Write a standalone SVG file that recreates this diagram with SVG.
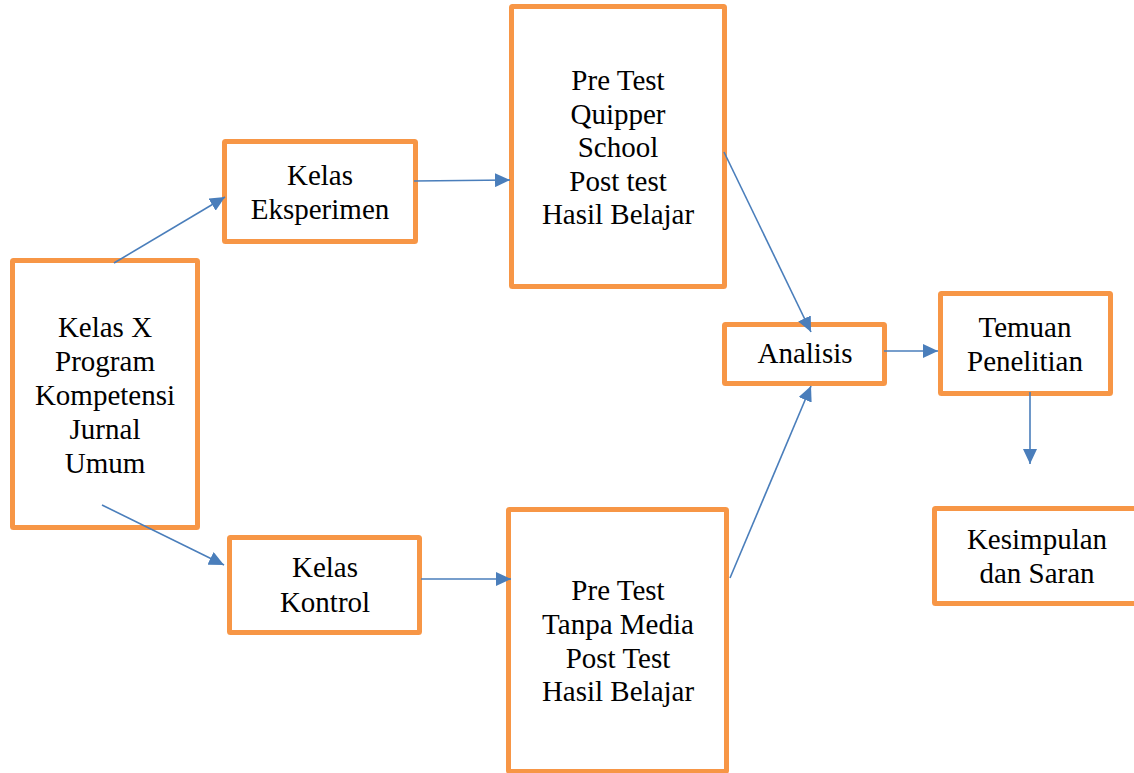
<svg xmlns="http://www.w3.org/2000/svg" width="1134" height="773" viewBox="0 0 1134 773">
<defs>
<style>
.box{fill:#fff;stroke:#f79646;stroke-width:5;}
text{font-family:"Liberation Serif",serif !important;font-size:29px;fill:#000;text-anchor:middle;}
.c{stroke:#4a7ebb;stroke-width:1.6;fill:none;marker-end:url(#ah);}
</style>
<marker id="ah" markerUnits="userSpaceOnUse" markerWidth="16" markerHeight="14" refX="15" refY="7" orient="auto">
<path d="M0,0 L15,7 L0,14 Z" fill="#4a7ebb"/>
</marker>
</defs>
<rect width="1134" height="773" fill="#fff"/>
<g id="kelas-x">
<rect class="box" x="12.5" y="260.5" width="185" height="267" rx="1"/>
<text x="105" y="337">Kelas X</text>
<text x="105" y="371">Program</text>
<text x="105" y="405">Kompetensi</text>
<text x="105" y="439">Jurnal</text>
<text x="105" y="473">Umum</text>
</g>
<g id="kelas-eksperimen">
<rect class="box" x="224.5" y="141.5" width="191" height="100" rx="1"/>
<text x="320" y="185">Kelas</text>
<text x="320" y="219">Eksperimen</text>
</g>
<g id="pre-test-quipper">
<rect class="box" x="511.5" y="6.5" width="213" height="280" rx="1"/>
<text x="618" y="90">Pre Test</text>
<text x="618" y="124">Quipper</text>
<text x="618" y="157">School</text>
<text x="618" y="191">Post test</text>
<text x="618" y="224">Hasil Belajar</text>
</g>
<g id="kelas-kontrol">
<rect class="box" x="229.5" y="537.5" width="190" height="95" rx="1"/>
<text x="325" y="577">Kelas</text>
<text x="325" y="612">Kontrol</text>
</g>
<g id="pre-test-tanpa-media">
<rect class="box" x="508.5" y="509.5" width="218" height="262" rx="1"/>
<text x="618" y="600">Pre Test</text>
<text x="618" y="634">Tanpa Media</text>
<text x="618" y="668">Post Test</text>
<text x="618" y="701">Hasil Belajar</text>
</g>
<g id="analisis">
<rect class="box" x="724.5" y="324.5" width="160" height="59" rx="1"/>
<text x="805" y="363">Analisis</text>
</g>
<g id="temuan-penelitian">
<rect class="box" x="940.5" y="293.5" width="170" height="100" rx="1"/>
<text x="1025" y="337">Temuan</text>
<text x="1025" y="371">Penelitian</text>
</g>
<g id="kesimpulan">
<rect class="box" x="934.5" y="508.5" width="215" height="95" rx="1"/>
<text x="1037" y="549">Kesimpulan</text>
<text x="1037" y="583">dan Saran</text>
</g>
<g id="connectors">
<line class="c" x1="114" y1="263" x2="225" y2="197"/>
<line class="c" x1="414" y1="181" x2="510" y2="180"/>
<line class="c" x1="724" y1="152" x2="811" y2="332"/>
<line class="c" x1="102" y1="505" x2="224" y2="565"/>
<line class="c" x1="421" y1="579" x2="511" y2="579"/>
<line class="c" x1="730" y1="578" x2="811" y2="386"/>
<line class="c" x1="884" y1="351" x2="938" y2="351"/>
<line class="c" x1="1030" y1="392" x2="1030" y2="464"/>
</g>
</svg>
